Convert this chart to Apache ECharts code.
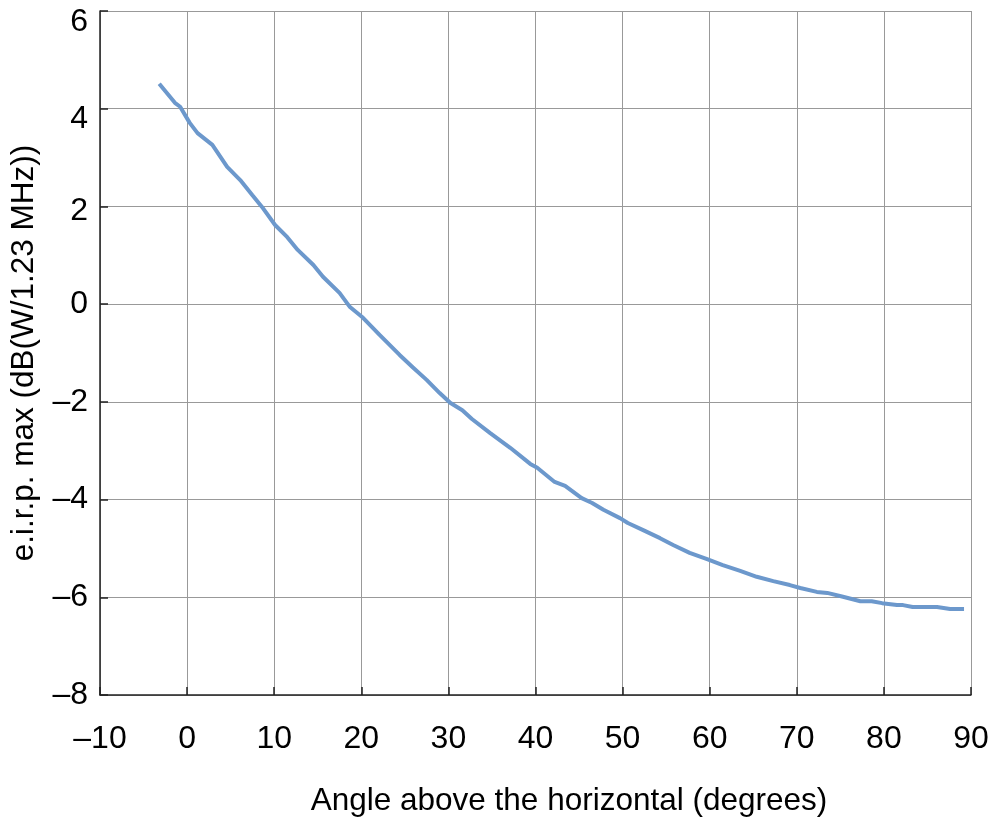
<!DOCTYPE html>
<html>
<head>
<meta charset="utf-8">
<script src="https://cdn.jsdelivr.net/npm/echarts@6/dist/echarts.min.js"></script>
<style>
  html, body { margin: 0; padding: 0; background: #fff; }
  #chart { width: 999px; height: 826px; }
</style>
</head>
<body>
<div id="chart"></div>
<script>
// angle above the horizontal (degrees)
const angles = [
  -3.2, -1.4, -0.8, 0.3, 1.2, 2.9, 4.6, 6.1, 7.5, 8.6,
  10.1, 11.5, 12.7, 14.5, 15.6, 17.5, 18.7, 20.2, 22.1, 24.4,
  25.9, 27.5, 29.0, 30.2, 31.6, 32.7, 34.8, 37.1, 39.4, 40.2,
  42.2, 43.4, 45.3, 46.5, 47.8, 49.7, 50.6, 52.3, 54.3, 55.8,
  57.7, 59.7, 61.5, 63.5, 65.4, 67.3, 69.2, 70.4, 72.3, 73.5,
  75.3, 77.3, 78.6, 79.8, 81.5, 82.2, 83.3, 86.1, 87.6, 89.2
]
// e.i.r.p. max (dB(W/1.23 MHz))
const eirp = [
  4.51, 4.12, 4.04, 3.71, 3.50, 3.26, 2.81, 2.54, 2.23, 1.99,
  1.62, 1.37, 1.11, 0.80, 0.56, 0.23, -0.06, -0.28, -0.63, -1.04,
  -1.29, -1.55, -1.82, -2.02, -2.17, -2.35, -2.64, -2.94, -3.27, -3.35,
  -3.64, -3.72, -3.97, -4.07, -4.21, -4.38, -4.48, -4.62, -4.79, -4.93,
  -5.09, -5.22, -5.34, -5.46, -5.58, -5.67, -5.75, -5.81, -5.89, -5.91,
  -5.99, -6.08, -6.08, -6.12, -6.16, -6.16, -6.20, -6.20, -6.24, -6.24
]

const xName = 'Angle above the horizontal (degrees)'
const yName = 'e.i.r.p. max (dB(W/1.23 MHz))'

const font = 'Liberation Sans, Arial, sans-serif'
// negative tick labels use an en dash
const dash = (v) => String(v).replace('-', '\u2013')

// the top y labels sit a little below their grid lines in the original
const yLabel = (v) => {
  if (v === 6) return '{a|6}'
  if (v === 4) return '{b|4}'
  if (v === 2) return '{c|2}'
  return dash(v)
}

const chart = echarts.init(document.getElementById('chart'))

chart.setOption({
  animation: false,
  grid: {
    left: 100,
    right: 28,
    top: 11,
    bottom: 131,
    outerBoundsMode: 'none'
  },
  xAxis: {
    type: 'value',
    min: -10,
    max: 90,
    interval: 10,
    name: xName,
    nameLocation: 'middle',
    nameGap: 90,
    nameTextStyle: {
      fontFamily: font,
      fontSize: 31.5,
      color: '#000',
      padding: [0, 0, 0, 67]
    },
    axisLine: { onZero: false, lineStyle: { color: '#222', width: 1.5 } },
    axisTick: { inside: true, length: 8, lineStyle: { color: '#222', width: 1.5 } },
    axisLabel: {
      margin: 28,
      fontFamily: font,
      fontSize: 32,
      color: '#000',
      formatter: dash
    },
    splitLine: { show: true, lineStyle: { color: '#999', width: 1 } }
  },
  yAxis: {
    type: 'value',
    min: -8,
    max: 6,
    interval: 2,
    name: yName,
    nameLocation: 'middle',
    nameGap: 60,
    nameTextStyle: {
      fontFamily: font,
      fontSize: 31.5,
      color: '#000'
    },
    axisLine: { show: true, onZero: false, lineStyle: { color: '#222', width: 1.5 } },
    axisTick: { show: true, inside: true, length: 8, lineStyle: { color: '#222', width: 1.5 } },
    axisLabel: {
      margin: 12,
      fontFamily: font,
      fontSize: 32,
      color: '#000',
      formatter: yLabel,
      rich: {
        a: { fontFamily: font, fontSize: 32, color: '#000', padding: [22, 0, 0, 0] },
        b: { fontFamily: font, fontSize: 32, color: '#000', padding: [20, 0, 0, 0] },
        c: { fontFamily: font, fontSize: 32, color: '#000', padding: [10, 0, 0, 0] }
      }
    },
    splitLine: { show: true, lineStyle: { color: '#999', width: 1 } }
  },
  series: [
    {
      type: 'line',
      data: angles.map((a, i) => [a, eirp[i]]),
      showSymbol: false,
      smooth: false,
      lineStyle: { color: '#6c98cc', width: 4 }
    }
  ]
})
</script>
</body>
</html>
